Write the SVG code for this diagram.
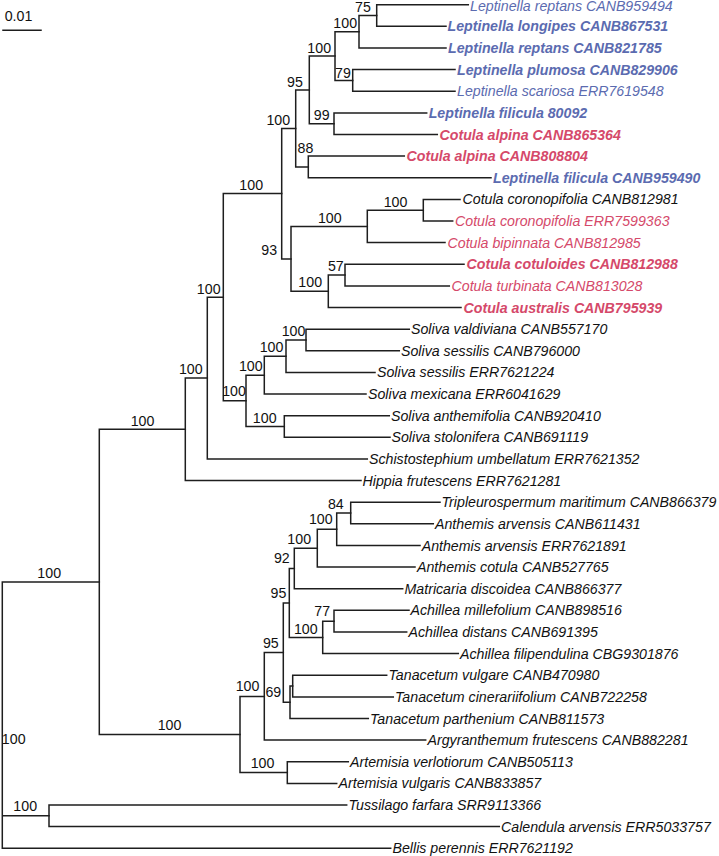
<svg xmlns="http://www.w3.org/2000/svg" width="719" height="856" viewBox="0 0 719 856">
<style>
.br{fill:none;stroke:#1e1e1e;stroke-width:1.5;stroke-linecap:square;stroke-linejoin:miter}
.tip{font-family:"Liberation Sans",Arial,Helvetica,sans-serif;font-style:italic;font-size:14.2px;fill:#111}
.b{font-weight:bold}
.blue{fill:#5b6bb0}
.red{fill:#d5496a}
.s{font-family:"Liberation Sans",Arial,Helvetica,sans-serif;font-size:14.2px;fill:#111;text-anchor:middle}
</style>
<rect width="719" height="856" fill="#fff"/>
<g id="scale">
<text class="s" x="18.5" y="21.2">0.01</text>
<path class="br" d="M3 30.3 H41"/>
</g>
<g id="connectors">
<path class="br" d="M468.3 4.7 H376.7 V26.3 H446"/>
<path class="br" d="M376.7 15.5 H359 V48 H446"/>
<path class="br" d="M455 69.6 H352.7 V91.2 H455"/>
<path class="br" d="M359 31.75 H335 V80.4 H352.7"/>
<path class="br" d="M426.7 112.9 H334 V134.5 H437.3"/>
<path class="br" d="M335 56.1 H309.3 V123.7 H334"/>
<path class="br" d="M404.3 156.1 H308.3 V177.7 H491"/>
<path class="br" d="M309.3 89.9 H295.7 V166.9 H308.3"/>
<path class="br" d="M460 199.4 H423.3 V221 H452.7"/>
<path class="br" d="M423.3 210.2 H367.3 V242.6 H445"/>
<path class="br" d="M464 264.3 H345 V285.9 H449.3"/>
<path class="br" d="M345 275.1 H328.3 V307.5 H461"/>
<path class="br" d="M367.3 226.4 H291 V291.3 H328.3"/>
<path class="br" d="M295.7 128.4 H281.7 V258.9 H291"/>
<path class="br" d="M409.3 329.2 H306 V350.8 H399.3"/>
<path class="br" d="M306 340 H286 V372.4 H375"/>
<path class="br" d="M286 356.2 H264.3 V394.1 H366"/>
<path class="br" d="M389.3 415.7 H284.3 V437.3 H390"/>
<path class="br" d="M264.3 375.2 H246 V426.5 H284.3"/>
<path class="br" d="M281.7 193.6 H223.3 V400.8 H246"/>
<path class="br" d="M223.3 297.2 H207.3 V458.9 H367.3"/>
<path class="br" d="M207.3 378 H185.3 V480.6 H361"/>
<path class="br" d="M440 502.2 H350.7 V523.8 H433.3"/>
<path class="br" d="M350.7 513 H336.7 V545.5 H420"/>
<path class="br" d="M336.7 529.3 H317.3 V567.1 H415"/>
<path class="br" d="M317.3 548.2 H294.3 V588.7 H402.7"/>
<path class="br" d="M409 610.3 H334 V632 H406.7"/>
<path class="br" d="M334 621.2 H322.7 V653.6 H458.3"/>
<path class="br" d="M294.3 568.4 H289.3 V637.4 H322.7"/>
<path class="br" d="M386.7 675.2 H292.7 V696.9 H393.3"/>
<path class="br" d="M292.7 686 H290 V718.5 H368.3"/>
<path class="br" d="M289.3 602.9 H283.3 V702.3 H290"/>
<path class="br" d="M283.3 652.6 H264.3 V740.1 H425.7"/>
<path class="br" d="M348.3 761.8 H287.3 V783.4 H336.7"/>
<path class="br" d="M264.3 696.4 H240 V772.6 H287.3"/>
<path class="br" d="M185.3 429.3 H99.3 V734.5 H240"/>
<path class="br" d="M346.7 805 H49 V826.6 H499.3"/>
<path class="br" d="M99.3 581.9 H2.3 V848.3 H390.7 M2.3 815.8 H49"/>
</g>
<g id="supports">
<g id="n-M"><text class="s" x="363" y="12">75</text></g>
<g id="n-L"><text class="s" x="345.2" y="28.3">100</text></g>
<g id="n-K"><text class="s" x="319.2" y="52.7">100</text></g>
<g id="n-N"><text class="s" x="343" y="77.5">79</text></g>
<g id="n-J"><text class="s" x="295" y="86.7">95</text></g>
<g id="n-O"><text class="s" x="321.7" y="120">99</text></g>
<g id="n-I"><text class="s" x="278.3" y="125">100</text></g>
<g id="n-P"><text class="s" x="305.5" y="153.3">88</text></g>
<g id="n-G"><text class="s" x="251.2" y="190">100</text></g>
<g id="n-T"><text class="s" x="395.5" y="206.7">100</text></g>
<g id="n-R"><text class="s" x="329.8" y="223.3">100</text></g>
<g id="n-Q"><text class="s" x="269.2" y="255">93</text></g>
<g id="n-U"><text class="s" x="335.8" y="271.3">57</text></g>
<g id="n-S"><text class="s" x="310.2" y="287.3">100</text></g>
<g id="n-F"><text class="s" x="208.7" y="294.2">100</text></g>
<g id="n-X"><text class="s" x="293.5" y="336">100</text></g>
<g id="n-W"><text class="s" x="271.5" y="351.7">100</text></g>
<g id="n-V"><text class="s" x="250.8" y="371">100</text></g>
<g id="n-H"><text class="s" x="234" y="395.7">100</text></g>
<g id="n-E"><text class="s" x="190.8" y="374.3">100</text></g>
<g id="n-Y"><text class="s" x="264.7" y="423">100</text></g>
<g id="n-C"><text class="s" x="142.5" y="426.3">100</text></g>
<g id="n-B"><text class="s" x="49.2" y="578">100</text></g>
<g id="n-AF"><text class="s" x="335.8" y="509">84</text></g>
<g id="n-AE"><text class="s" x="320.8" y="524.3">100</text></g>
<g id="n-AD"><text class="s" x="299.2" y="544.3">100</text></g>
<g id="n-AG"><text class="s" x="281.8" y="563">92</text></g>
<g id="n-AH"><text class="s" x="278.5" y="597.7">95</text></g>
<g id="n-AJ"><text class="s" x="322.2" y="616.3">77</text></g>
<g id="n-AI"><text class="s" x="305.8" y="633.7">100</text></g>
<g id="n-AA"><text class="s" x="270.8" y="648.3">95</text></g>
<g id="n-Z"><text class="s" x="247.5" y="691">100</text></g>
<g id="n-AB"><text class="s" x="273.3" y="697.3">69</text></g>
<g id="n-AK"><text class="s" x="262.5" y="768.3">100</text></g>
<g id="n-D"><text class="s" x="169.5" y="730">100</text></g>
<g id="n-AL"><text class="s" x="25.2" y="811">100</text></g>
<g id="n-root"><text class="s" x="13.7" y="744.3">100</text></g>
</g>
<g id="tips">
<g id="t1"><text class="tip blue" x="470" y="10.6">Leptinella reptans CANB959494</text></g>
<g id="t2"><text class="tip blue b" x="447.5" y="31.3">Leptinella longipes CANB867531</text></g>
<g id="t3"><text class="tip blue b" x="448" y="53">Leptinella reptans CANB821785</text></g>
<g id="t4"><text class="tip blue b" x="457" y="74.6">Leptinella plumosa CANB829906</text></g>
<g id="t5"><text class="tip blue" x="457" y="96.2">Leptinella scariosa ERR7619548</text></g>
<g id="t6"><text class="tip blue b" x="428.7" y="117.9">Leptinella filicula 80092</text></g>
<g id="t7"><text class="tip red b" x="439.5" y="139.5">Cotula alpina CANB865364</text></g>
<g id="t8"><text class="tip red b" x="406.5" y="161.1">Cotula alpina CANB808804</text></g>
<g id="t9"><text class="tip blue b" x="493" y="182.7">Leptinella filicula CANB959490</text></g>
<g id="t10"><text class="tip" x="462.5" y="204.4">Cotula coronopifolia CANB812981</text></g>
<g id="t11"><text class="tip red" x="455" y="226">Cotula coronopifolia ERR7599363</text></g>
<g id="t12"><text class="tip red" x="447.5" y="247.6">Cotula bipinnata CANB812985</text></g>
<g id="t13"><text class="tip red b" x="466.5" y="269.3">Cotula cotuloides CANB812988</text></g>
<g id="t14"><text class="tip red" x="451.5" y="290.9">Cotula turbinata CANB813028</text></g>
<g id="t15"><text class="tip red b" x="463.5" y="312.5">Cotula australis CANB795939</text></g>
<g id="t16"><text class="tip" x="411" y="334.2">Soliva valdiviana CANB557170</text></g>
<g id="t17"><text class="tip" x="401" y="355.8">Soliva sessilis CANB796000</text></g>
<g id="t18"><text class="tip" x="377" y="377.4">Soliva sessilis ERR7621224</text></g>
<g id="t19"><text class="tip" x="368" y="399.1">Soliva mexicana ERR6041629</text></g>
<g id="t20"><text class="tip" x="391" y="420.7">Soliva anthemifolia CANB920410</text></g>
<g id="t21"><text class="tip" x="391.5" y="442.3">Soliva stolonifera CANB691119</text></g>
<g id="t22"><text class="tip" x="369" y="463.9">Schistostephium umbellatum ERR7621352</text></g>
<g id="t23"><text class="tip" x="362.5" y="485.6">Hippia frutescens ERR7621281</text></g>
<g id="t24"><text class="tip" x="441.5" y="507.2">Tripleurospermum maritimum CANB866379</text></g>
<g id="t25"><text class="tip" x="435" y="528.8">Anthemis arvensis CANB611431</text></g>
<g id="t26"><text class="tip" x="421.7" y="550.5">Anthemis arvensis ERR7621891</text></g>
<g id="t27"><text class="tip" x="417" y="572.1">Anthemis cotula CANB527765</text></g>
<g id="t28"><text class="tip" x="404.5" y="593.7">Matricaria discoidea CANB866377</text></g>
<g id="t29"><text class="tip" x="410.5" y="615.3">Achillea millefolium CANB898516</text></g>
<g id="t30"><text class="tip" x="408.5" y="637">Achillea distans CANB691395</text></g>
<g id="t31"><text class="tip" x="460" y="658.6">Achillea filipendulina CBG9301876</text></g>
<g id="t32"><text class="tip" x="388.5" y="680.2">Tanacetum vulgare CANB470980</text></g>
<g id="t33"><text class="tip" x="395" y="701.9">Tanacetum cinerariifolium CANB722258</text></g>
<g id="t34"><text class="tip" x="370" y="723.5">Tanacetum parthenium CANB811573</text></g>
<g id="t35"><text class="tip" x="427.5" y="745.1">Argyranthemum frutescens CANB882281</text></g>
<g id="t36"><text class="tip" x="350" y="766.8">Artemisia verlotiorum CANB505113</text></g>
<g id="t37"><text class="tip" x="338.5" y="788.4">Artemisia vulgaris CANB833857</text></g>
<g id="t38"><text class="tip" x="348.5" y="810">Tussilago farfara SRR9113366</text></g>
<g id="t39"><text class="tip" x="501" y="831.6">Calendula arvensis ERR5033757</text></g>
<g id="t40"><text class="tip" x="392.5" y="853.3">Bellis perennis ERR7621192</text></g>
</g>
</svg>
